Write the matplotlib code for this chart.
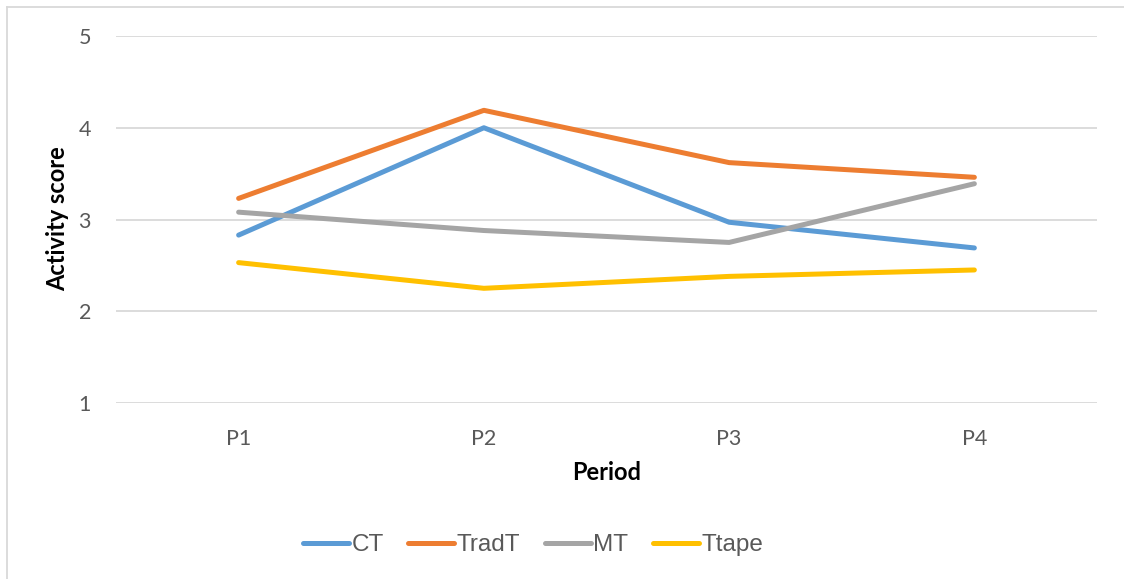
import matplotlib
matplotlib.use("Agg")
import matplotlib.pyplot as plt
from matplotlib.lines import Line2D

periods = ["P1", "P2", "P3", "P4"]
ct = [2.83, 4.00, 2.97, 2.69]
tradt = [3.23, 4.19, 3.62, 3.46]
mt = [3.08, 2.88, 2.75, 3.39]
ttape = [2.53, 2.25, 2.38, 2.45]
series_names = ["CT", "TradT", "MT", "Ttape"]
colors = ["#5B9BD5", "#ED7D31", "#A5A5A5", "#FFC000"]
yticks = [1, 2, 3, 4, 5]

W, H = 1124, 579
fig = plt.figure(figsize=(W / 100, H / 100), dpi=100)
ax = fig.add_axes([116 / W, 1 - 403 / H, (1097 - 116) / W, (403 - 36) / H])

x = list(range(len(periods)))
for vals, name, c in zip([ct, tradt, mt, ttape], series_names, colors):
    ax.plot(x, vals, color=c, lw=3.6, solid_capstyle="round", solid_joinstyle="round", label=name, zorder=3)

ax.set_xlim(-0.5, len(periods) - 0.5)
ax.set_ylim(1, 5)
ax.set_yticks(yticks)
ax.set_xticks(x)
ax.set_xticklabels(periods)
ax.grid(axis="y", color="#D9D9D9", lw=1.3, zorder=0)
for s in ax.spines.values():
    s.set_visible(False)
ax.tick_params(length=0, colors="#595959", labelsize=15.5)
for lab in ax.get_xticklabels() + ax.get_yticklabels():
    lab.set_family("Lato")
ax.tick_params(axis="y", pad=18)
ax.tick_params(axis="x", pad=19)

fig.text(607 / W, 1 - 472 / H, "Period", ha="center", va="center", fontsize=17,
         fontweight="bold", family="Lato", color="black")
fig.text(58 / W, 1 - 219 / H, "Activity score", ha="center", va="center", fontsize=17,
         fontweight="bold", family="Lato", color="black", rotation=90)

handles = [Line2D([0], [0], color=c, lw=3.6, solid_capstyle="round") for c in colors]
leg = fig.legend(handles, series_names, loc="center", bbox_to_anchor=(533 / W, 1 - 545 / H),
                 ncol=4, frameon=False, handlelength=1.9, handletextpad=0.1,
                 columnspacing=1.0, prop={"family": "Liberation Sans", "size": 17.5})
for t in leg.get_texts():
    t.set_color("#595959")

# outer chart border (top and left visible)
fig.add_artist(Line2D([7 / W, 1], [1 - 7 / H, 1 - 7 / H], color="#D9D9D9", lw=1.3))
fig.add_artist(Line2D([7 / W, 7 / W], [0, 1 - 7 / H], color="#D9D9D9", lw=1.3))

fig.savefig("out.png", dpi=100, facecolor="white")
